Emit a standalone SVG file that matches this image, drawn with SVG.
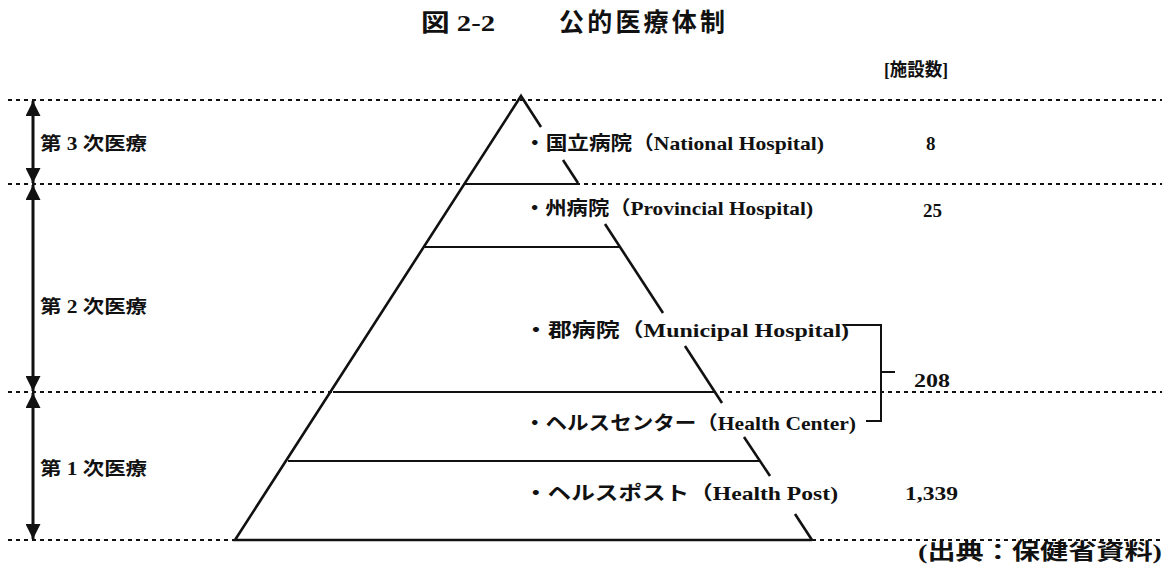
<svg xmlns="http://www.w3.org/2000/svg" width="1168" height="565" viewBox="0 0 1168 565">
<style>
.t{font-family:"Liberation Serif","Noto Sans CJK JP",serif;font-size:19px;font-weight:bold;fill:#111}
.dash{stroke:#111;stroke-width:2;stroke-dasharray:4 4;fill:none}
.solid{stroke:#111;stroke-width:2;fill:none}
.edge{stroke:#111;stroke-width:2.6;fill:none}
.arr{stroke:#111;stroke-width:3;fill:none}
</style>
<defs>
<marker id="ah" viewBox="0 0 10 10" refX="10" refY="5" markerWidth="5" markerHeight="5" orient="auto-start-reverse" markerUnits="strokeWidth">
<path d="M0,0 L10,5 L0,10 z" fill="#111"/>
</marker>
</defs>
<rect width="1168" height="565" fill="#fff"/>
<g id="title">
<text class="t" x="421" y="31" textLength="74" lengthAdjust="spacingAndGlyphs" style="font-size:24px">図 2-2</text>
<text class="t" x="559" y="31" textLength="166" lengthAdjust="spacing" style="font-size:25px">公的医療体制</text>
</g>
<g id="header"><text class="t" x="884" y="76" textLength="64" lengthAdjust="spacingAndGlyphs" style="font-size:18px">[施設数]</text></g>
<g id="connectors">
<line class="dash" x1="8" y1="100" x2="1162" y2="100"/>
<line class="dash" x1="8" y1="184" x2="1162" y2="184"/>
<line class="dash" x1="8" y1="392" x2="1162" y2="392"/>
<line class="dash" x1="8" y1="540" x2="236" y2="540"/>
<line class="dash" x1="812" y1="540" x2="1162" y2="540"/>
<line class="arr" x1="33" y1="101" x2="33" y2="183" marker-start="url(#ah)" marker-end="url(#ah)"/>
<line class="arr" x1="33" y1="185" x2="33" y2="391" marker-start="url(#ah)" marker-end="url(#ah)"/>
<line class="arr" x1="33" y1="393" x2="33" y2="539" marker-start="url(#ah)" marker-end="url(#ah)"/>
<polyline class="solid" points="843,325 881,325 881,421 866,421"/>
<line class="solid" x1="881" y1="372" x2="895" y2="372"/>
</g>
<g id="pyramid">
<polyline class="edge" points="812,540 235,540 521,96 541,127"/>
<line class="edge" x1="563" y1="160" x2="578" y2="183"/>
<line class="edge" x1="605" y1="224" x2="663" y2="313"/>
<line class="edge" x1="685" y1="346" x2="722" y2="403"/>
<line class="edge" x1="744" y1="437" x2="770" y2="476"/>
<line class="edge" x1="795" y1="514" x2="812" y2="540"/>
<line class="solid" x1="464" y1="184" x2="578" y2="184"/>
<line class="solid" x1="423" y1="247" x2="619" y2="247"/>
<line class="solid" x1="333" y1="392" x2="715" y2="392"/>
<line class="solid" x1="288" y1="461" x2="761" y2="461"/>
</g>
<g id="levels">
<text class="t" x="40" y="150" textLength="107" lengthAdjust="spacingAndGlyphs" style="font-size:18px">第 3 次医療</text>
<text class="t" x="40" y="313" textLength="107" lengthAdjust="spacingAndGlyphs" style="font-size:18px">第 2 次医療</text>
<text class="t" x="40" y="475" textLength="107" lengthAdjust="spacingAndGlyphs" style="font-size:18px">第 1 次医療</text>
</g>
<g id="national"><text class="t" x="524" y="150" textLength="300" lengthAdjust="spacingAndGlyphs">・国立病院（National  Hospital)</text><text class="t" x="926" y="150">8</text></g>
<g id="provincial"><text class="t" x="524" y="215" textLength="289" lengthAdjust="spacingAndGlyphs">・州病院（Provincial Hospital)</text><text class="t" x="923" y="217">25</text></g>
<g id="municipal"><text class="t" x="524" y="337" textLength="325" lengthAdjust="spacingAndGlyphs">・郡病院（Municipal  Hospital)</text></g>
<g id="center"><text class="t" x="524" y="430" textLength="332" lengthAdjust="spacingAndGlyphs">・ヘルスセンター（Health Center)</text></g>
<g id="count208"><text class="t" x="914" y="387" textLength="36" lengthAdjust="spacingAndGlyphs">208</text></g>
<g id="post"><text class="t" x="524" y="500" textLength="314" lengthAdjust="spacingAndGlyphs">・ヘルスポスト（Health Post)</text><text class="t" x="905" y="500" textLength="53" lengthAdjust="spacingAndGlyphs">1,339</text></g>
<g id="source"><text class="t" x="918" y="559" textLength="244" lengthAdjust="spacingAndGlyphs" style="font-size:22px">(出典：保健省資料)</text></g>
</svg>
